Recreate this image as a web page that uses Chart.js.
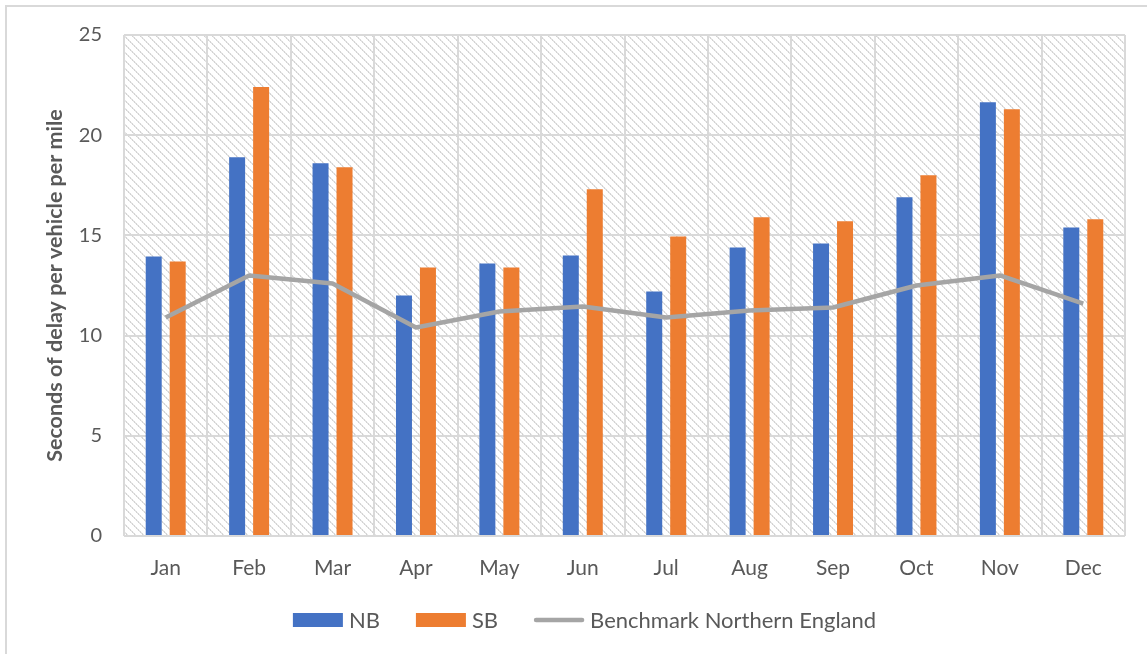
<!DOCTYPE html>
<html>
<head>
<meta charset="utf-8">
<script src="https://cdn.jsdelivr.net/npm/chart.js@4/dist/chart.umd.min.js"></script>
<style>
  html, body { margin: 0; padding: 0; background: #fff; }
  #frame { position: absolute; left: 0; top: 0; width: 1147px; height: 654px; }
  #border { position: absolute; left: 5px; top: 5px; right: 0; bottom: 0;
            border-left: 2px solid #d9d9d9; border-top: 2px solid #d9d9d9; pointer-events: none; }
  canvas { position: absolute; left: 0; top: 0; }
</style>
</head>
<body>
<div id="frame">
  <canvas id="chart" width="1147" height="654"></canvas>
  <div id="border"></div>
</div>
<script>
// Monthly delay, seconds per vehicle per mile
const months = ['Jan', 'Feb', 'Mar', 'Apr', 'May', 'Jun', 'Jul', 'Aug', 'Sep', 'Oct', 'Nov', 'Dec'];
const nbDelay = [13.95, 18.9, 18.6, 12.0, 13.6, 14.0, 12.2, 14.4, 14.6, 16.9, 21.65, 15.4];
const sbDelay = [13.7, 22.4, 18.4, 13.4, 13.4, 17.3, 14.95, 15.9, 15.7, 18.0, 21.3, 15.8];
const benchmarkNorth = [10.9, 13.0, 12.6, 10.4, 11.2, 11.45, 10.9, 11.25, 11.4, 12.5, 13.0, 11.6];
const yTicks = [0, 5, 10, 15, 20, 25];

const FONT = 'Lato, "Open Sans", sans-serif';
const TEXT = '#595959';
const GRID = '#d9d9d9';

// Diagonal hatch fill behind the plot area
function makeHatch(ctx) {
  const t = document.createElement('canvas');
  t.width = 8; t.height = 8;
  const g = t.getContext('2d');
  g.fillStyle = '#ffffff';
  g.fillRect(0, 0, 8, 8);
  for (let i = 0; i < 8; i++) {
    g.fillStyle = (i % 2 === 0) ? '#d2d2d2' : '#e2e2e2';
    g.fillRect(i, i, 1, 1);
    g.fillStyle = (i % 2 === 0) ? '#e8e8e8' : '#d8d8d8';
    g.fillRect((i + 1) % 8, i, 1, 1);
  }
  return ctx.createPattern(t, 'repeat');
}

const hatchPlugin = {
  id: 'hatch',
  beforeDraw(chart) {
    const { ctx, chartArea: a } = chart;
    ctx.save();
    ctx.fillStyle = makeHatch(ctx);
    ctx.fillRect(a.left, a.top, a.right - a.left, a.bottom - a.top);
    ctx.restore();
  }
};

// Legend row under the axis
const legendPlugin = {
  id: 'bottomLegend',
  afterDraw(chart) {
    const { ctx } = chart;
    const y = 620;
    const boxW = 50, boxH = 14, gap = 6, spacing = 36;
    ctx.save();
    ctx.font = '22px ' + FONT;
    ctx.textBaseline = 'middle';
    const items = chart.data.datasets.map(ds => ({
      label: ds.label, type: ds.type || 'bar',
      color: ds.type === 'line' ? ds.borderColor : ds.backgroundColor
    }));
    const widths = items.map(it => boxW + gap + ctx.measureText(it.label).width);
    const total = widths.reduce((s, w) => s + w, 0) + spacing * (items.length - 1);
    let x = 584.5 - total / 2;
    items.forEach((it, i) => {
      if (it.type === 'line') {
        ctx.strokeStyle = it.color;
        ctx.lineWidth = 4.5;
        ctx.lineCap = 'round';
        ctx.beginPath();
        ctx.moveTo(x + 2, y);
        ctx.lineTo(x + boxW - 2, y);
        ctx.stroke();
      } else {
        ctx.fillStyle = it.color;
        ctx.fillRect(x, y - boxH / 2, boxW, boxH);
      }
      ctx.fillStyle = TEXT;
      ctx.fillText(it.label, x + boxW + gap, y + 1);
      x += widths[i] + spacing;
    });
    ctx.restore();
  }
};

new Chart(document.getElementById('chart'), {
  type: 'bar',
  data: {
    labels: months,
    datasets: [
      { label: 'NB', data: nbDelay, backgroundColor: '#4472c4', order: 2,
        categoryPercentage: 0.575, barPercentage: 0.667 },
      { label: 'SB', data: sbDelay, backgroundColor: '#ed7d31', order: 2,
        categoryPercentage: 0.575, barPercentage: 0.667 },
      { type: 'line', label: 'Benchmark Northern England', data: benchmarkNorth,
        borderColor: '#a5a5a5', backgroundColor: '#a5a5a5', borderWidth: 4.5,
        pointRadius: 0, tension: 0, order: 1, borderJoinStyle: 'round', borderCapStyle: 'butt' }
    ]
  },
  options: {
    responsive: false,
    animation: false,
    layout: { padding: { top: 35, right: 22, left: 0, bottom: 0 } },
    plugins: {
      legend: { display: false },
      tooltip: { enabled: false }
    },
    scales: {
      x: {
        offset: true,
        grid: { color: GRID, lineWidth: 2, offset: true, drawTicks: false },
        border: { display: false },
        ticks: { color: TEXT, font: { family: FONT, size: 21 }, padding: 20 },
        afterFit(scale) { scale.height = 118; }
      },
      y: {
        min: 0, max: 25,
        afterBuildTicks(scale) { scale.ticks = yTicks.map(v => ({ value: v })); },
        grid: { color: GRID, lineWidth: 2, drawTicks: false },
        border: { display: false },
        ticks: { color: TEXT, font: { family: FONT, size: 20 }, padding: 22 },
        title: {
          display: true, text: 'Seconds of delay per vehicle per mile',
          color: TEXT, font: { family: FONT, size: 21.5, weight: 'bold' },
          padding: { top: 42, bottom: 0 }
        },
        afterFit(scale) { scale.width = 124; }
      }
    }
  },
  plugins: [hatchPlugin, legendPlugin]
});
</script>
</body>
</html>
